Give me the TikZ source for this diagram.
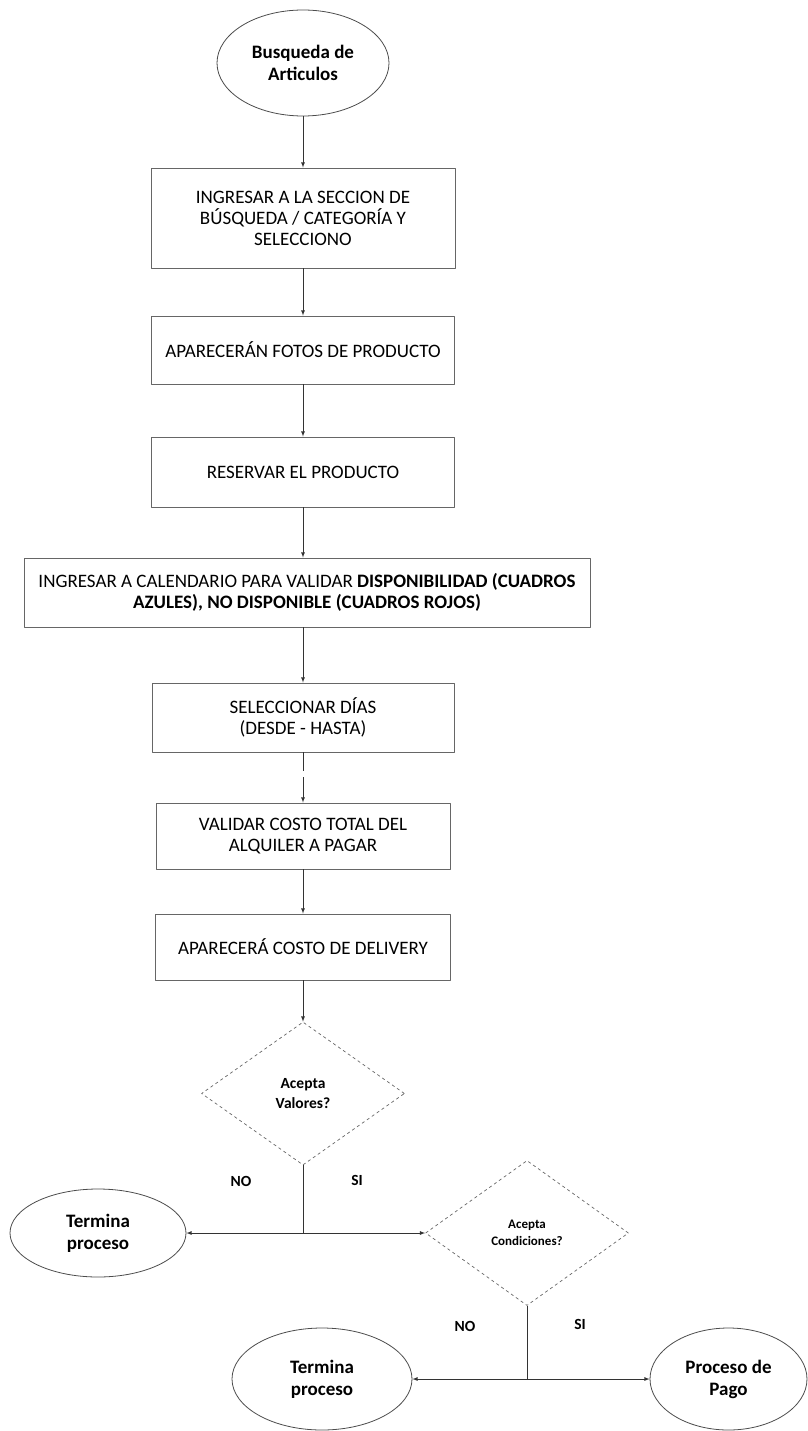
\documentclass[tikz,border=0pt]{standalone}
\usepackage{fontspec}
\setmainfont{Carlito}
\usetikzlibrary{shapes.geometric}

\begin{document}
\begin{tikzpicture}[x=1pt,y=-1pt,>=latex, font=\fontsize{19}{21}\selectfont, line join=round,
	caja/.style={draw=black!60, line width=0.9pt, align=center, inner sep=0pt},
	elip/.style={draw=black!70, ellipse, line width=0.8pt, align=center, inner sep=0pt, font=\fontsize{19}{22}\selectfont\bfseries},
	rombo/.style={draw=black!60, diamond, dashed, line width=0.7pt, align=center, inner sep=0pt},
	flecha/.style={->, draw=black!80, line width=0.8pt},
	etiq/.style={font=\fontsize{15.5}{18}\selectfont\bfseries}]
	\useasboundingbox (0,0) rectangle (807,1431);
	% Flujo principal
	\node[elip, minimum width=172pt, minimum height=106pt] (ini) at (303,63) {Busqueda de\\Articulos};
	\node[caja, minimum width=304pt, minimum height=100pt] (b1) at (303,218) {INGRESAR A LA SECCION DE\\BÚSQUEDA / CATEGORÍA Y\\SELECCIONO};
	\node[caja, minimum width=303pt, minimum height=68pt] (b2) at (303,350) {APARECERÁN FOTOS DE PRODUCTO};
	\node[caja, minimum width=303pt, minimum height=70pt] (b3) at (303,472) {RESERVAR EL PRODUCTO};
	\node[caja, minimum width=566pt, minimum height=69pt] (b4) at (307,592.5) {INGRESAR A CALENDARIO PARA VALIDAR \textbf{DISPONIBILIDAD (CUADROS}\\\textbf{AZULES), NO DISPONIBLE (CUADROS ROJOS)}};
	\node[caja, minimum width=302pt, minimum height=69pt] (b5) at (303,717.5) {SELECCIONAR DÍAS\\(DESDE - HASTA)};
	\node[caja, minimum width=294pt, minimum height=66pt] (b6) at (303,836) {VALIDAR COSTO TOTAL DEL\\ALQUILER A PAGAR};
	\node[caja, minimum width=295pt, minimum height=66pt] (b7) at (303,947) {APARECERÁ COSTO DE DELIVERY};
	\draw[flecha] (ini) -- (b1);
	\draw[flecha] (b1) -- (b2);
	\draw[flecha] (b2) -- (b3);
	\draw[flecha] (b3.south) -- (b3.south |- b4.north);
	\draw[flecha] (b5.north |- b4.south) -- (b5.north);
	\draw[flecha, dash pattern=on 19pt off 6pt on 100pt] (b5) -- (b6);
	\draw[flecha] (b6) -- (b7);
	% Decisiones
	\node[rombo, minimum width=203pt, minimum height=143pt, font=\fontsize{15.5}{20}\selectfont\bfseries] (d1) at (303,1093.5) {Acepta\\Valores?};
	\node[rombo, minimum width=203pt, minimum height=145pt, font=\fontsize{13}{17}\selectfont\bfseries] (d2) at (527,1233) {Acepta\\Condiciones?};
	\node[elip, minimum width=176pt, minimum height=88pt] (t1) at (98,1233) {Termina\\proceso};
	\node[elip, minimum width=180pt, minimum height=102pt] (t2) at (322,1379) {Termina\\proceso};
	\node[elip, minimum width=157pt, minimum height=102pt] (pago) at (728.5,1379) {Proceso de\\Pago};
	\draw[flecha] (b7) -- (d1);
	\coordinate (j1) at (d1.south |- d2.west);
	\coordinate (j2) at (d2.south |- pago.west);
	\draw[draw=black!80, line width=0.8pt] (d1.south) -- (j1);
	\draw[flecha, <->] (t1) -- (j1) -- (d2.west);
	\draw[draw=black!80, line width=0.8pt] (d2.south) -- (j2);
	\draw[flecha, <->] (t2) -- (j2) -- (pago);
	\node[etiq] (no1) at (241,1181) {NO};
	\node[etiq] (si1) at (357,1180) {SI};
	\node[etiq] (no2) at (465,1326) {NO};
	\node[etiq] (si2) at (580,1324) {SI};
\end{tikzpicture}
\end{document}
